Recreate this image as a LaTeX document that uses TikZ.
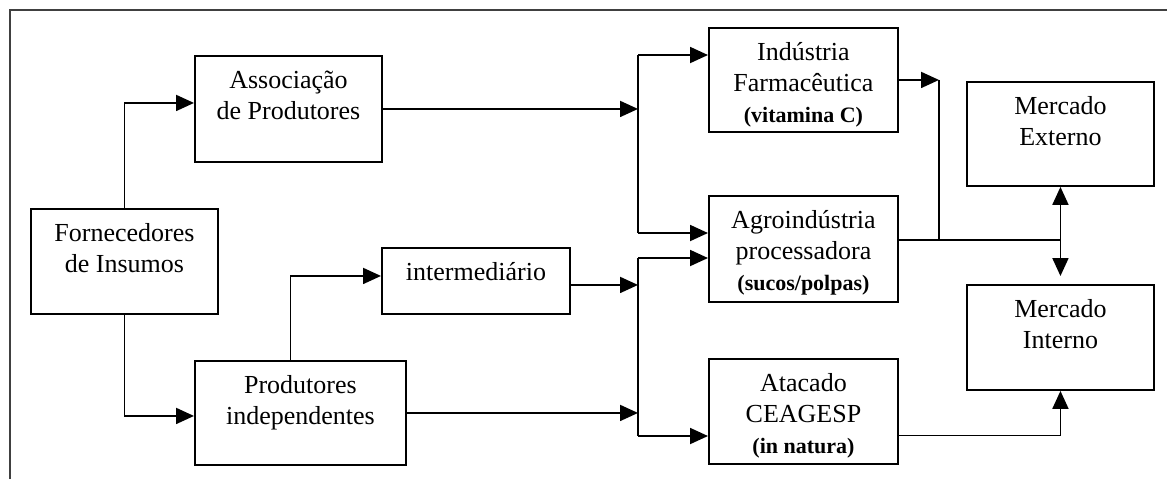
\documentclass[tikz,border=0pt]{standalone}
\usepackage{fontspec}
\setmainfont{Liberation Serif}
\usepackage{tikz}
\usetikzlibrary{arrows.meta}

\newcommand{\caixa}[3]{\parbox[t][#2][t]{#1}{\centering\rule{0pt}{16.5pt}#3}}
\newcommand{\obs}[1]{{\fontsize{11}{13}\selectfont\bfseries #1}}

\begin{document}
\begin{tikzpicture}[x=0.5pt,y=-0.5pt,line width=0.95pt,
    bloco/.style={draw, inner sep=0pt, anchor=north west,
        font=\fontsize{13}{15.5}\selectfont},
    seta/.style={-{Triangle[length=9pt,width=8pt]}},
    seta2/.style={{Triangle[length=9pt,width=8pt]}-{Triangle[length=9pt,width=8pt]}, shorten >=4pt}]
    \useasboundingbox (0,0) rectangle (1167,479);
    % Draw frame
    \draw[line width=0.7pt, black!75] (10,479) -- (10,10) -- (1167,10);
    % Draw boxes
    \node[bloco] (forn) at (30,208) {\caixa{93.5pt}{52.5pt}{Fornecedores\\de Insumos}};
    \node[bloco] (assoc) at (194,55) {\caixa{93.5pt}{53pt}{Associação\\de Produtores}};
    \node[bloco] (prod) at (194,360) {\caixa{105.5pt}{52pt}{Produtores\\independentes}};
    \node[bloco] (inter) at (381,247) {\caixa{94pt}{33pt}{intermediário}};
    \node[bloco] (farma) at (708,27) {\caixa{94.5pt}{52pt}{Indústria\\Farmacêutica\\\obs{(vitamina C)}}};
    \node[bloco] (agro) at (708,195) {\caixa{94.5pt}{53pt}{Agroindústria\\processadora\\\obs{(sucos/polpas)}}};
    \node[bloco] (atac) at (708,358) {\caixa{94.5pt}{52.5pt}{Atacado\\CEAGESP\\\obs{(in natura)}}};
    \node[bloco] (ext) at (966,81) {\caixa{93.5pt}{52pt}{Mercado\\Externo}};
    \node[bloco] (int) at (966,284) {\caixa{93.5pt}{52.5pt}{Mercado\\Interno}};
    % Junction points
    \coordinate (b1) at (638,55);
    \coordinate (b1b) at (638,233);
    \coordinate (b2) at (638,258);
    \coordinate (b2b) at (638,436);
    \coordinate (b3) at (939,239);
    \coordinate (e2) at ([yshift=-2pt]inter.east);
    \coordinate (e3) at ([yshift=4.5pt]agro.east);
    \coordinate (e4) at ([yshift=-12pt]atac.east);
    % Draw connectors
    \draw[seta] (forn.north) |- ([yshift=3pt]assoc.west);
    \draw[seta] (forn.south) |- ([yshift=-1.5pt]prod.west);
    \draw[seta] ([xshift=-5pt]prod.north) |- ([yshift=2.5pt]inter.west);
    \draw[seta] (assoc.east) -- (assoc.east -| b1);
    \draw (b1) -- (b1b);
    \draw[seta] (b1) -- (b1 -| farma.west);
    \draw[seta] (b1b) -- (b1b -| agro.west);
    \draw[seta] (e2) -- (e2 -| b2);
    \draw[seta] (prod.east) -- (prod.east -| b2);
    \draw (b2) -- (b2b);
    \draw[seta] (b2) -- (b2 -| agro.west);
    \draw[seta] (b2b) -- (b2b -| atac.west);
    \draw[seta] (farma.east) -- (farma.east -| b3);
    \draw (b3 |- farma.east) -- (b3);
    \draw (e3) -- (e3 -| ext.south);
    \draw[seta2] (ext.south) -- (int.north);
    \draw[seta] (e4) -| (int.south);
\end{tikzpicture}
\end{document}
